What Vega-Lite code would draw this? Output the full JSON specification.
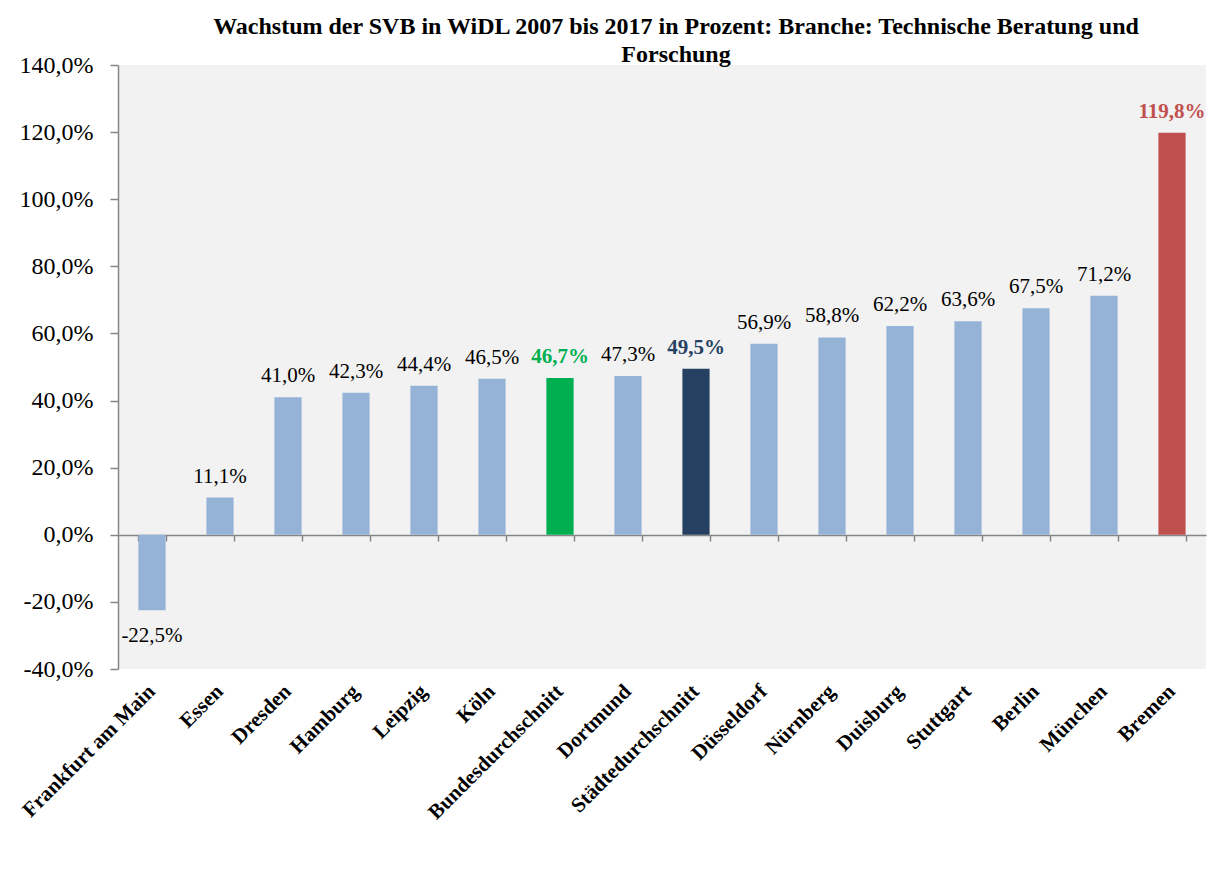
{
  "$schema": "https://vega.github.io/schema/vega-lite/v6.json",
  "width": 1088,
  "height": 604,
  "autosize": {"type": "none"},
  "padding": {"left": 118, "top": 65, "right": 9, "bottom": 225},
  "background": "white",
  "title": {
    "text": ["Wachstum der SVB in WiDL 2007 bis 2017 in Prozent: Branche: Technische Beratung und", "Forschung"],
    "font": "Liberation Serif",
    "fontSize": 24,
    "fontWeight": "bold",
    "color": "black",
    "anchor": "middle",
    "dx": 14,
    "dy": 17,
    "offset": 3,
    "lineHeight": 28
  },
  "config": {
    "view": {"fill": "#f2f2f2", "stroke": null},
    "font": "Liberation Serif",
    "axis": {"labelFont": "Liberation Serif", "labelColor": "black"}
  },
  "data": {
    "values": [
      {"ort": "Frankfurt am Main", "wert": -22.5, "typ": "Stadt"},
      {"ort": "Essen", "wert": 11.1, "typ": "Stadt"},
      {"ort": "Dresden", "wert": 41.0, "typ": "Stadt"},
      {"ort": "Hamburg", "wert": 42.3, "typ": "Stadt"},
      {"ort": "Leipzig", "wert": 44.4, "typ": "Stadt"},
      {"ort": "Köln", "wert": 46.5, "typ": "Stadt"},
      {"ort": "Bundesdurchschnitt", "wert": 46.7, "typ": "Bund"},
      {"ort": "Dortmund", "wert": 47.3, "typ": "Stadt"},
      {"ort": "Städtedurchschnitt", "wert": 49.5, "typ": "Städte"},
      {"ort": "Düsseldorf", "wert": 56.9, "typ": "Stadt"},
      {"ort": "Nürnberg", "wert": 58.8, "typ": "Stadt"},
      {"ort": "Duisburg", "wert": 62.2, "typ": "Stadt"},
      {"ort": "Stuttgart", "wert": 63.6, "typ": "Stadt"},
      {"ort": "Berlin", "wert": 67.5, "typ": "Stadt"},
      {"ort": "München", "wert": 71.2, "typ": "Stadt"},
      {"ort": "Bremen", "wert": 119.8, "typ": "Max"}
    ]
  },
  "transform": [
    {"calculate": "replace(replace(format(datum.wert, '.1f'), '.', ','), '−', '-') + '%'", "as": "lab"}
  ],
  "layer": [
    {
      "mark": {"type": "bar"},
      "encoding": {
        "x": {
          "field": "ort", "type": "nominal", "sort": null,
          "scale": {"paddingInner": 0.6, "paddingOuter": 0.3},
          "axis": {
            "orient": "bottom", "offset": -134, "labels": false, "title": null,
            "domainColor": "#868686", "domainWidth": 1.5,
            "tickColor": "#868686", "tickWidth": 1.5, "tickSize": 6, "tickBand": "extent"
          }
        },
        "y": {
          "field": "wert", "type": "quantitative",
          "scale": {"domain": [-40, 140], "nice": false, "zero": false},
          "axis": {
            "title": null, "grid": false,
            "values": [-40, -20, 0, 20, 40, 60, 80, 100, 120, 140],
            "labelExpr": "replace(replace(format(datum.value, '.1f'), '.', ','), '−', '-') + '%'",
            "labelFont": "Liberation Serif", "labelFontSize": 24, "labelColor": "black",
            "labelPadding": 17,
            "domainColor": "#868686", "domainWidth": 1.5,
            "tickColor": "#868686", "tickWidth": 1.5, "tickSize": 8
          }
        },
        "color": {
          "field": "typ", "type": "nominal",
          "scale": {"domain": ["Stadt", "Bund", "Städte", "Max"], "range": ["#95b3d7", "#00b050", "#254061", "#c0504d"]},
          "legend": null
        }
      }
    },
    {
      "transform": [{"filter": "datum.typ == 'Stadt' && datum.wert >= 0"}],
      "mark": {"type": "text", "baseline": "bottom", "dy": -11, "fontSize": 21, "color": "black", "font": "Liberation Serif"},
      "encoding": {
        "x": {
          "field": "ort", "type": "nominal", "sort": null,
          "axis": {
            "orient": "bottom", "title": null, "domain": false, "ticks": false,
            "labelAngle": -45, "labelAlign": "right", "labelBaseline": "middle",
            "labelFont": "Liberation Serif", "labelFontSize": 21, "labelFontWeight": "bold",
            "labelColor": "black", "labelPadding": 19, "labelLimit": 400
          }
        },
        "y": {"field": "wert", "type": "quantitative"},
        "text": {"field": "lab"}
      }
    },
    {
      "transform": [{"filter": "datum.wert < 0"}],
      "mark": {"type": "text", "baseline": "top", "dy": 15, "fontSize": 21, "color": "black", "font": "Liberation Serif"},
      "encoding": {
        "x": {"field": "ort", "type": "nominal", "sort": null, "axis": null},
        "y": {"field": "wert", "type": "quantitative"},
        "text": {"field": "lab"}
      }
    },
    {
      "transform": [{"filter": "datum.typ != 'Stadt'"}],
      "mark": {"type": "text", "baseline": "bottom", "dy": -11, "fontSize": 21, "fontWeight": "bold", "font": "Liberation Serif"},
      "encoding": {
        "x": {"field": "ort", "type": "nominal", "sort": null, "axis": null},
        "y": {"field": "wert", "type": "quantitative"},
        "text": {"field": "lab"},
        "color": {"field": "typ", "type": "nominal", "legend": null}
      }
    }
  ],
  "resolve": {"axis": {"x": "independent"}}
}
